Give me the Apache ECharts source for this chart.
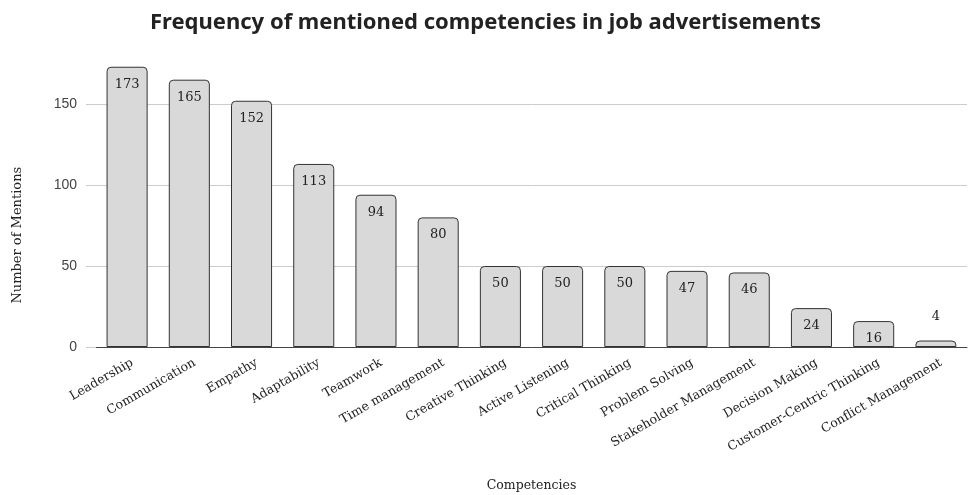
<!DOCTYPE html>
<html>
<head>
<meta charset="utf-8">
<script src="https://cdn.jsdelivr.net/npm/echarts@6/dist/echarts.min.js"></script>
<style>
  html, body { margin: 0; padding: 0; background: #fff; }
  #chart { width: 971px; height: 495px; }
</style>
</head>
<body>
<div id="chart"></div>
<script>
const competencies = [
  'Leadership', 'Communication', 'Empathy', 'Adaptability', 'Teamwork',
  'Time management', 'Creative Thinking', 'Active Listening', 'Critical Thinking',
  'Problem Solving', 'Stakeholder Management', 'Decision Making',
  'Customer-Centric Thinking', 'Conflict Management'
]
const mentions = [173, 165, 152, 113, 94, 80, 50, 50, 50, 47, 46, 24, 16, 4]

const serif = '"DejaVu Serif", serif'

const chart = echarts.init(document.getElementById('chart'))

const option = {
  backgroundColor: '#fff',
  animation: false,
  title: {
    text: 'Frequency of mentioned competencies in job advertisements',
    left: 'center',
    top: 7,
    textStyle: {
      fontFamily: '"Noto Sans", sans-serif',
      fontWeight: 'bold',
      fontSize: 22,
      color: '#222'
    }
  },
  grid: {
    left: 96,
    right: 4,
    top: 55.4,
    bottom: 148,
    outerBoundsMode: 'none'
  },
  xAxis: {
    type: 'category',
    data: competencies,
    name: 'Competencies',
    nameLocation: 'middle',
    nameGap: 132,
    nameTextStyle: { fontFamily: serif, fontSize: 12.5, color: '#222' },
    axisLine: { lineStyle: { color: '#444', width: 1 } },
    axisTick: { show: false },
    axisLabel: {
      rotate: 30,
      interval: 0,
      margin: 18,
      padding: [0, -6, 0, 0],
      fontFamily: serif,
      fontSize: 12.5,
      color: '#222'
    }
  },
  yAxis: {
    type: 'value',
    min: 0,
    max: 180,
    interval: 50,
    name: 'Number of Mentions',
    nameLocation: 'middle',
    nameGap: 72,
    nameTextStyle: { fontFamily: serif, fontSize: 13, color: '#222', padding: [0, 68, 0, 0] },
    axisLine: { show: false },
    axisTick: { show: true, length: 10, lineStyle: { color: '#ccc' } },
    axisLabel: {
      showMaxLabel: false,
      margin: 19,
      fontFamily: '"Liberation Sans", Arial, sans-serif',
      fontSize: 14,
      color: '#444'
    },
    splitLine: {
      showMaxLine: false,
      lineStyle: { color: '#ccc', width: 1 }
    }
  },
  series: [{
    type: 'bar',
    barWidth: '66%',
    data: mentions.map(v => ({
      value: v,
      label: v < 10
        ? { position: 'top', distance: 17 }
        : { position: 'insideTop', distance: 11 }
    })),
    itemStyle: {
      color: '#d9d9d9',
      borderColor: '#333',
      borderWidth: 1,
      borderRadius: [4, 4, 0, 0]
    },
    label: {
      show: true,
      fontFamily: serif,
      fontSize: 13,
      color: '#222'
    }
  }]
}

chart.setOption(option)
</script>
</body>
</html>
